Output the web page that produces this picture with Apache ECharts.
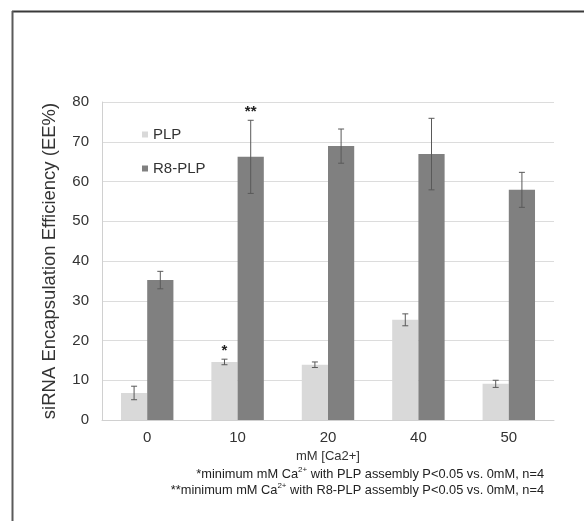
<!DOCTYPE html>
<html>
<head>
<meta charset="utf-8">
<script src="https://cdn.jsdelivr.net/npm/echarts@6/dist/echarts.min.js"></script>
<style>
  html, body { margin: 0; padding: 0; background: #fff; }
  #chart { width: 584px; height: 521px; }
</style>
</head>
<body>
<div id="chart"></div>
<script>
// data
const categories = ['0', '10', '20', '40', '50']
const plpValues = [6.8, 14.6, 13.9, 25.2, 9.1]
const plpErrors = [1.7, 0.7, 0.7, 1.5, 0.9]
const r8Values = [35.2, 66.2, 68.9, 66.9, 57.9]
const r8Errors = [2.2, 9.2, 4.3, 9.0, 4.4]
const plpMarks = ['', '*', '', '', '']
const r8Marks = ['', '**', '', '', '']
const yTicks = [0, 10, 20, 30, 40, 50, 60, 70, 80]

const FONT = '"Liberation Sans", Arial, sans-serif'
const TEXT = '#333'
const BAR_GAP = 0.42

const chart = echarts.init(document.getElementById('chart'))

// error bars (+ significance stars) drawn as a custom series over each bar
function errorSeries (name, values, errors, marks, side) {
  return {
    type: 'custom',
    name: name + '-err',
    z: 5,
    silent: true,
    data: values.map((v, i) => [i, v, errors[i], marks[i]]),
    renderItem: (params, api) => {
      const band = api.size([1, 0])[0]
      const barW = band * (1 - BAR_GAP) / 2
      const x0 = api.coord([api.value(0), 0])[0] + side * barW / 2
      const v = api.value(1)
      const e = api.value(2)
      const top = api.coord([0, v + e])[1]
      const bot = api.coord([0, v - e])[1]
      const cap = 3
      const style = { stroke: '#595959', lineWidth: 1 }
      const children = [
        { type: 'line', shape: { x1: x0, y1: top, x2: x0, y2: bot }, style },
        { type: 'line', shape: { x1: x0 - cap, y1: top, x2: x0 + cap, y2: top }, style },
        { type: 'line', shape: { x1: x0 - cap, y1: bot, x2: x0 + cap, y2: bot }, style }
      ]
      const mark = marks[params.dataIndex]
      if (mark) {
        children.push({
          type: 'text',
          style: {
            text: mark, x: x0, y: top - 1, align: 'center', verticalAlign: 'bottom',
            font: 'bold 15px ' + FONT, fill: '#222'
          }
        })
      }
      return { type: 'group', children }
    }
  }
}

const option = {
  animation: false,
  backgroundColor: '#fff',
  textStyle: { fontFamily: FONT },
  grid: { left: 102, right: 30, top: 102, bottom: 101 },
  legend: {
    orient: 'vertical',
    left: 137,
    top: 122,
    itemWidth: 6,
    itemHeight: 6,
    itemGap: 19,
    icon: 'rect',
    textStyle: { fontSize: 15, color: TEXT, fontFamily: FONT },
    data: ['PLP', 'R8-PLP']
  },
  xAxis: {
    type: 'category',
    data: categories,
    name: 'mM [Ca2+]',
    nameLocation: 'middle',
    nameGap: 30,
    nameTextStyle: { fontSize: 13, color: TEXT, fontFamily: FONT },
    axisLine: { lineStyle: { color: '#d0d0d0' } },
    axisTick: { show: false },
    axisLabel: { fontSize: 15, color: TEXT, margin: 10, fontFamily: FONT }
  },
  yAxis: {
    type: 'value',
    min: 0,
    max: 80,
    interval: 10,
    name: 'siRNA Encapsulation Efficiency (EE%)',
    nameLocation: 'middle',
    nameGap: 43,
    nameTextStyle: { fontSize: 18.5, color: TEXT, fontFamily: FONT },
    axisLine: { show: true, lineStyle: { color: '#d0d0d0' } },
    axisTick: { show: false },
    axisLabel: {
      fontSize: 15, color: TEXT, margin: 13, fontFamily: FONT,
      formatter: v => (yTicks.includes(v) ? String(v) : '')
    },
    splitLine: { lineStyle: { color: '#dcdcdc' } }
  },
  series: [
    {
      name: 'PLP',
      type: 'bar',
      data: plpValues,
      barGap: '0%',
      barCategoryGap: (BAR_GAP * 100) + '%',
      itemStyle: { color: '#d9d9d9' }
    },
    {
      name: 'R8-PLP',
      type: 'bar',
      data: r8Values,
      barGap: '0%',
      barCategoryGap: (BAR_GAP * 100) + '%',
      itemStyle: { color: '#808080' }
    },
    errorSeries('PLP', plpValues, plpErrors, plpMarks, -1),
    errorSeries('R8-PLP', r8Values, r8Errors, r8Marks, 1)
  ],
  graphic: [
    // frame of the original figure panel (top and left edges visible)
    { type: 'line', shape: { x1: 12, y1: 11.5, x2: 584, y2: 11.5 }, style: { stroke: '#3a3a3a', lineWidth: 2 } },
    { type: 'line', shape: { x1: 12.5, y1: 11, x2: 12.5, y2: 521 }, style: { stroke: '#5a5a5a', lineWidth: 2 } },
    {
      type: 'text',
      right: 40,
      top: 466,
      style: {
        text: '{n|*minimum mM Ca}{s|2+}{n| with PLP assembly P<0.05 vs. 0mM, n=4}',
        align: 'right',
        rich: {
          n: { fontSize: 12.8, fontFamily: FONT, fill: '#222', lineHeight: 16 },
          s: { fontSize: 8, fontFamily: FONT, fill: '#222', lineHeight: 9, verticalAlign: 'top' }
        }
      }
    },
    {
      type: 'text',
      right: 40,
      top: 482,
      style: {
        text: '{n|**minimum mM Ca}{s|2+}{n| with R8-PLP assembly P<0.05 vs. 0mM, n=4}',
        align: 'right',
        rich: {
          n: { fontSize: 12.8, fontFamily: FONT, fill: '#222', lineHeight: 16 },
          s: { fontSize: 8, fontFamily: FONT, fill: '#222', lineHeight: 9, verticalAlign: 'top' }
        }
      }
    }
  ]
}

chart.setOption(option)
</script>
</body>
</html>
